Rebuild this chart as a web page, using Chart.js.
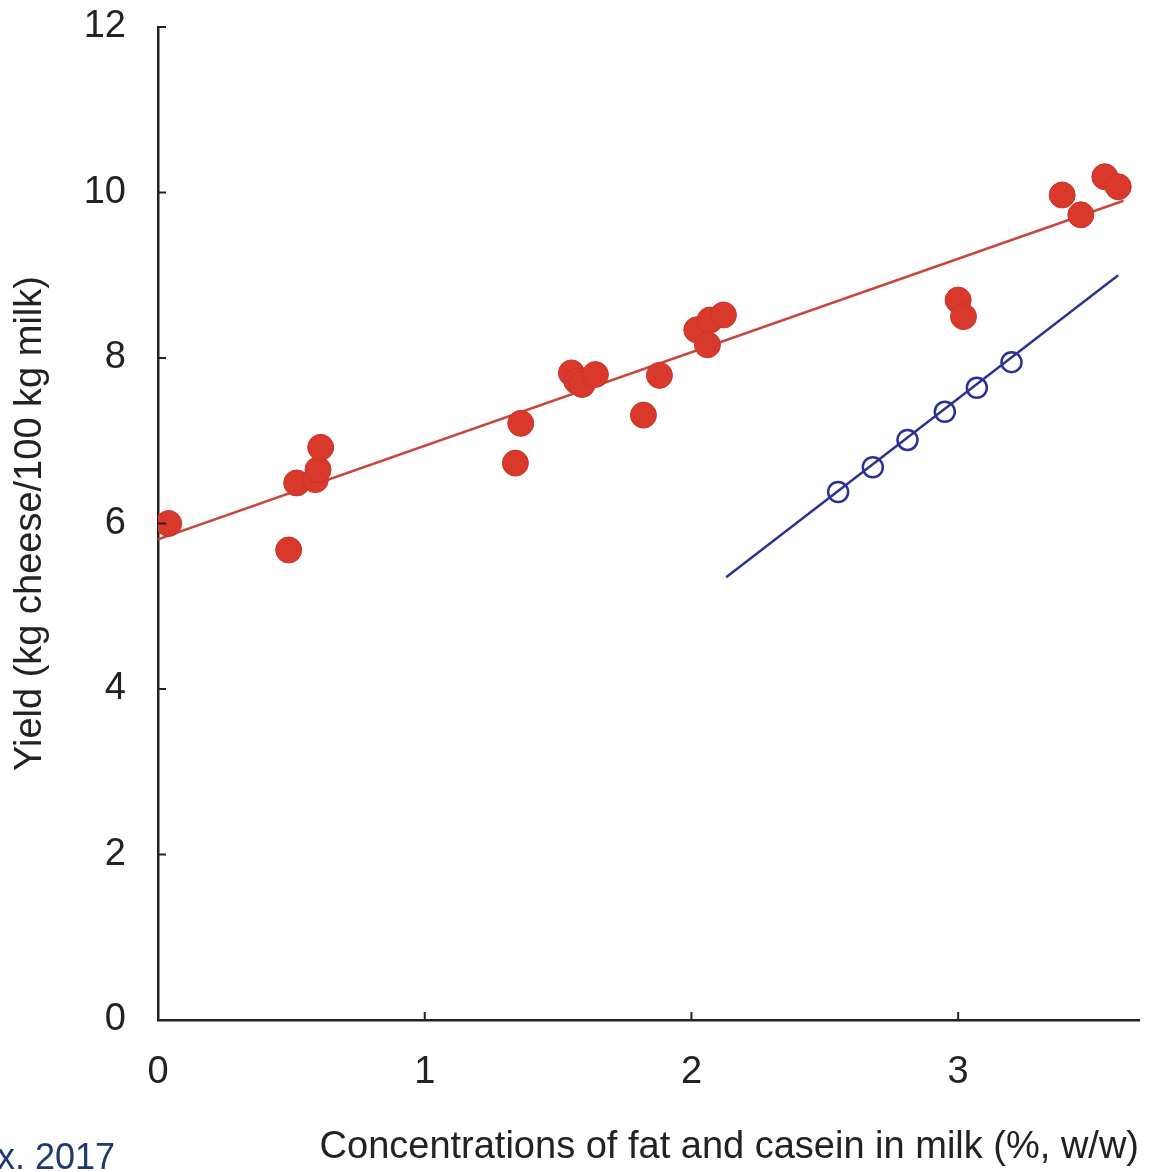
<!DOCTYPE html>
<html>
<head>
<meta charset="utf-8">
<script src="https://cdn.jsdelivr.net/npm/chart.js@4.4.1/dist/chart.umd.min.js"></script>
<style>
  html, body { margin: 0; padding: 0; background: #fff; }
  #wrap { position: relative; width: 1153px; height: 1172px; overflow: hidden; }
  #source {
    position: absolute; left: -3px; top: 1136px;
    font-family: 'Liberation Sans', Arial, sans-serif; font-size: 36px;
    color: #1c3a72;
  }
</style>
</head>
<body>
<div id="wrap">
  <canvas id="yieldChart"></canvas>
  <div id="source">x. 2017</div>
</div>
<script>
  // ── Data ──
  // measured yields (red, filled)
  var measuredX = [0.04, 0.49, 0.52, 0.59, 0.60, 0.61, 1.34, 1.36, 1.55, 1.57, 1.59, 1.64,
                   1.82, 1.88, 2.02, 2.06, 2.07, 2.12, 3.00, 3.02, 3.39, 3.46, 3.55, 3.60];
  var measuredY = [6.00, 5.68, 6.49, 6.53, 6.65, 6.92, 6.73, 7.21, 7.82, 7.72, 7.68, 7.80,
                   7.31, 7.79, 8.34, 8.16, 8.46, 8.52, 8.70, 8.50, 9.97, 9.73, 10.19, 10.07];

  // predicted yields (blue, open)
  var predictedX = [2.55, 2.68, 2.81, 2.95, 3.07, 3.20];
  var predictedY = [6.38, 6.68, 7.01, 7.35, 7.64, 7.95];

  // fitted lines (end points)
  var redFitX  = [0.00, 3.62];
  var redFitY  = [5.81, 9.90];
  var blueFitX = [2.13, 3.60];
  var blueFitY = [5.35, 9.00];

  var xTicks = [0, 1, 2, 3];
  var yTicks = [0, 2, 4, 6, 8, 10, 12];

  function pts(xs, ys) {
    return xs.map(function(x, i) { return { x: x, y: ys[i] }; });
  }

  var font = "'Liberation Sans', Arial, sans-serif";
  var ink = '#222';

  // inward tick marks like the original figure
  var inwardTicks = {
    id: 'inwardTicks',
    afterDraw: function(chart) {
      var c = chart.ctx, xs = chart.scales.x, ys = chart.scales.y;
      var x0 = xs.getPixelForValue(0), y0 = ys.getPixelForValue(0);
      c.save();
      c.strokeStyle = ink;
      c.lineWidth = 2;
      xTicks.forEach(function(v) {
        if (v === 0) return;
        var px = xs.getPixelForValue(v);
        c.beginPath(); c.moveTo(px, y0); c.lineTo(px, y0 - 8); c.stroke();
      });
      yTicks.forEach(function(v) {
        if (v === 0) return;
        var py = ys.getPixelForValue(v);
        c.beginPath(); c.moveTo(x0, py); c.lineTo(x0 + 8, py); c.stroke();
      });
      c.restore();
    }
  };

  var ctx = document.getElementById('yieldChart').getContext('2d');
  var chart = new Chart(ctx, {
    type: 'scatter',
    data: {
      datasets: [
        {
          label: 'Measured',
          data: pts(measuredX, measuredY),
          backgroundColor: '#d8392b',
          borderColor: '#c8342a',
          borderWidth: 1,
          pointRadius: 13,
          order: 0
        },
        {
          label: 'Predicted',
          data: pts(predictedX, predictedY),
          backgroundColor: 'rgba(0,0,0,0)',
          borderColor: '#2b3196',
          borderWidth: 2.5,
          pointRadius: 10,
          order: 1
        },
        {
          label: 'Measured fit',
          data: pts(redFitX, redFitY),
          showLine: true,
          borderColor: '#c9463c',
          borderWidth: 2.5,
          pointRadius: 0,
          order: 2
        },
        {
          label: 'Predicted fit',
          data: pts(blueFitX, blueFitY),
          showLine: true,
          borderColor: '#2b3590',
          borderWidth: 2.5,
          pointRadius: 0,
          order: 3
        }
      ]
    },
    options: {
      responsive: true,
      maintainAspectRatio: false,
      animation: false,
      layout: { padding: { top: 27, right: 0, left: 0, bottom: 0 } },
      plugins: {
        legend: { display: false },
        tooltip: { enabled: false }
      },
      scales: {
        x: {
          type: 'linear',
          min: 0,
          max: 3.678,
          afterBuildTicks: function(scale) {
            scale.ticks = xTicks.map(function(v) { return { value: v }; });
          },
          afterFit: function(scale) {
            scale.height = 152;
            scale.paddingLeft = 0;
            scale.paddingRight = 0;
          },
          grid: { display: false },
          border: { display: true, color: ink, width: 2.5 },
          ticks: {
            padding: 22,
            color: ink,
            font: { family: font, size: 38 }
          },
          title: {
            display: true,
            text: 'Concentrations of fat and casein in milk (%, w/w)',
            align: 'end',
            color: ink,
            padding: { top: 0, bottom: 2 },
            font: { family: font, size: 38 }
          }
        },
        y: {
          type: 'linear',
          min: 0,
          max: 12,
          afterBuildTicks: function(scale) {
            scale.ticks = yTicks.map(function(v) { return { value: v }; });
          },
          afterFit: function(scale) {
            scale.width = 158;
            scale.paddingTop = 0;
            scale.paddingBottom = 0;
          },
          grid: { display: false },
          border: { display: true, color: ink, width: 2.5 },
          ticks: {
            padding: 24,
            color: ink,
            font: { family: font, size: 38 }
          },
          title: {
            display: true,
            text: 'Yield (kg cheese/100 kg milk)',
            color: ink,
            padding: { top: 8, bottom: 0 },
            font: { family: font, size: 38 }
          }
        }
      }
    },
    plugins: [inwardTicks]
  });
</script>
</body>
</html>
